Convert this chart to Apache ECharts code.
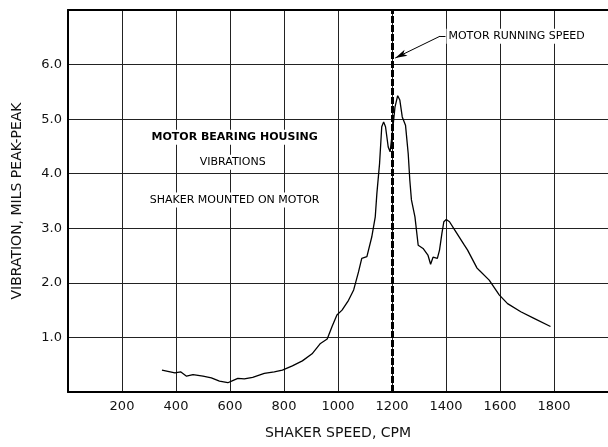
<!DOCTYPE html>
<html>
<head>
<meta charset="utf-8">
<script src="https://cdn.jsdelivr.net/npm/echarts@6/dist/echarts.min.js"></script>
<style>html,body{margin:0;padding:0;background:#fff}#c{width:608px;height:447px}</style>
</head>
<body>
<div id="c"></div>
<script>
// Shaker speed (CPM) and vibration (mils peak-peak)
const speed = [348,396,417,439,463,500,531,561,592,610,629,653,684,727,764,794,831,868,904,935,960,978,996,1015,1039,1058,1076,1088,1107,1125,1138,1144,1154,1162,1169,1176,1186,1193,1201,1211,1221,1229,1238,1250,1260,1266,1272,1285,1297,1315,1333,1343,1352,1368,1376,1385,1392,1401,1413,1432,1468,1480,1515,1523,1560,1597,1628,1677,1726,1787];
const vibration = [0.40,0.35,0.37,0.29,0.32,0.29,0.26,0.20,0.17,0.21,0.25,0.24,0.27,0.34,0.37,0.40,0.48,0.57,0.70,0.89,0.97,1.20,1.41,1.50,1.68,1.87,2.20,2.45,2.48,2.84,3.21,3.64,4.19,4.86,4.95,4.86,4.49,4.40,4.74,5.22,5.43,5.35,5.04,4.89,4.37,3.88,3.52,3.21,2.69,2.63,2.51,2.34,2.47,2.45,2.60,2.91,3.12,3.16,3.12,2.97,2.69,2.60,2.27,2.23,2.05,1.78,1.62,1.47,1.35,1.20];
const motorRunningSpeed = 1200;
const xTicks = [0,200,400,600,800,1000,1200,1400,1600,1800,2000];
const yTicks = [0,1,2,3,4,5,6,7];
const notes = [
  {text:'MOTOR BEARING HOUSING', x:617, y:4.67, bold:true},
  {text:'VIBRATIONS', x:610, y:4.21, bold:false},
  {text:'SHAKER MOUNTED ON MOTOR', x:617, y:3.52, bold:false}
];
const runLabel = {text:'MOTOR RUNNING SPEED', x:1398, y:6.52};
const arrowPath = [[1398,6.52],[1378,6.52],[1212,6.12]];

const FONT = 'DejaVu Sans';
const chart = echarts.init(document.getElementById('c'), null, {renderer:'canvas'});
const pts = speed.map((s,i)=>[s, vibration[i]]);
const xBase = {
  type:'value', min:xTicks[0], max:xTicks[xTicks.length-1], interval:200,
  axisTick:{show:false}
};
chart.setOption({
  animation:false,
  backgroundColor:'#fff',
  grid:{left:68, top:10, width:544, bottom:55, show:false},
  xAxis:[Object.assign({}, xBase, {
    position:'bottom',
    name:'SHAKER SPEED, CPM', nameLocation:'middle', nameGap:34,
    nameTextStyle:{fontFamily:FONT, fontSize:14, color:'#111'},
    axisLine:{show:true, onZero:false, lineStyle:{color:'#000', width:2}},
    axisLabel:{fontFamily:FONT, fontSize:13, color:'#111', margin:8, showMinLabel:false, showMaxLabel:false,
      formatter:v=>String(v)},
    splitLine:{show:true, lineStyle:{color:'#222', width:1}}
  }), Object.assign({}, xBase, {
    position:'top',
    axisLine:{show:true, onZero:false, lineStyle:{color:'#000', width:2}},
    axisLabel:{show:false},
    splitLine:{show:false}
  })],
  yAxis:{
    type:'value', min:yTicks[0], max:yTicks[yTicks.length-1], interval:1,
    name:'VIBRATION, MILS PEAK-PEAK', nameLocation:'middle', nameGap:44,
    nameTextStyle:{fontFamily:FONT, fontSize:14, color:'#111'},
    axisLine:{show:true, lineStyle:{color:'#000', width:2}},
    axisTick:{show:false},
    axisLabel:{fontFamily:FONT, fontSize:13, color:'#111', margin:6, showMinLabel:false, showMaxLabel:false,
      formatter:v=>v.toFixed(1)},
    splitLine:{show:true, lineStyle:{color:'#222', width:1}}
  },
  series:[
    {
      type:'line', data:pts, symbol:'none', smooth:false, silent:true,
      xAxisIndex:0,
      lineStyle:{color:'#000', width:1.3},
      markLine:{
        silent:true, symbol:'none', animation:false,
        label:{show:false},
        data:[
          {xAxis:motorRunningSpeed, lineStyle:{color:'#000', width:3, type:[7,2]}},
          [{coord:arrowPath[0], lineStyle:{color:'#000', width:1, type:'solid'}},{coord:arrowPath[1]}],
          [{coord:arrowPath[1], symbol:'none', lineStyle:{color:'#000', width:1, type:'solid'}},{coord:arrowPath[2], symbol:'arrow', symbolSize:[5,12]}]
        ]
      },
      markPoint:{
        silent:true, symbol:'rect', symbolSize:0, animation:false,
        data:notes.map(n=>({coord:[n.x,n.y], label:{show:true, position:'inside', formatter:n.text,
          fontFamily:FONT, fontSize:11, fontWeight:n.bold?'bold':'normal', color:'#000',
          backgroundColor:'#fff', padding:[2,3]}})).concat([
          {coord:[runLabel.x, runLabel.y], label:{show:true, position:'right', distance:1, formatter:runLabel.text,
            fontFamily:FONT, fontSize:11, color:'#000', backgroundColor:'#fff', padding:[2,2]}}
        ])
      }
    }
  ]
});
</script>
</body>
</html>
